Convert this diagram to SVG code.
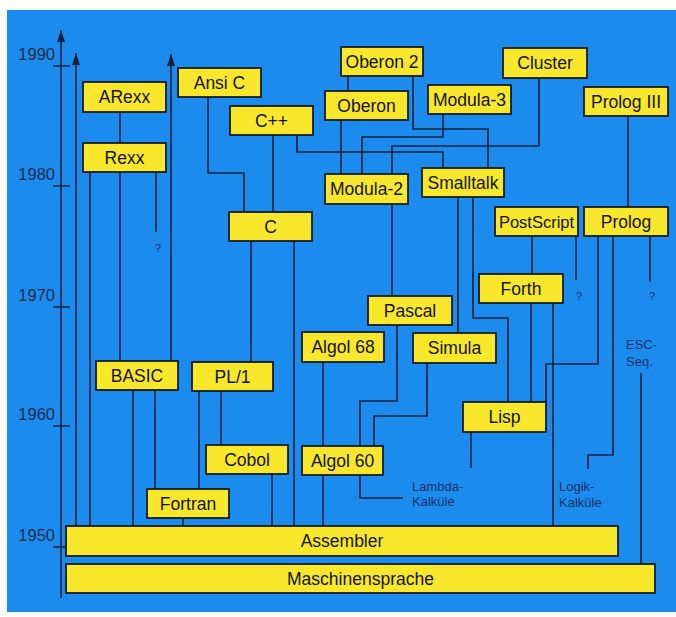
<svg xmlns="http://www.w3.org/2000/svg" width="676" height="617" viewBox="0 0 676 617">
<style>
.bg{fill:#1b8cee}
.box rect{fill:#f8e72a;stroke:#151a22;stroke-width:1.8}
.box text{font-family:"Liberation Sans",Arial,sans-serif;font-size:17.5px;fill:#141414;text-anchor:middle}
.ln{fill:none;stroke:#10203c;stroke-width:1.6}
.yr{font-family:"Liberation Sans",Arial,sans-serif;font-size:16.5px;fill:#1c2a48;text-anchor:end}
.sm{font-family:"Liberation Sans",Arial,sans-serif;font-size:13px;fill:#17306a}
.q{font-family:"Liberation Sans",Arial,sans-serif;font-size:11px;fill:#17306a;text-anchor:middle}
</style>
<defs>
<marker id="arr" markerUnits="userSpaceOnUse" markerWidth="12" markerHeight="8" refX="12" refY="4" orient="auto">
<path d="M0,0 L12,4 L0,8 z" fill="#10203c"/>
</marker>
</defs>
<rect x="0" y="0" width="676" height="617" fill="#ffffff"/>
<rect class="bg" x="7" y="10" width="669" height="602"/>

<g id="axis">
<path class="ln" d="M61,598 V30" marker-end="url(#arr)"/>
<path class="ln" d="M53,66 H70 M53,186 H70 M53,307 H70 M53,426 H70 M53,547 H70"/>
<text class="yr" x="55" y="59.5">1990</text>
<text class="yr" x="55" y="179.5">1980</text>
<text class="yr" x="55" y="300.5">1970</text>
<text class="yr" x="55" y="419.5">1960</text>
<text class="yr" x="55" y="540.5">1950</text>
</g>

<g id="connectors">
<path class="ln" d="M76,526 V53" marker-end="url(#arr)"/>
<path class="ln" d="M171,361 V54" marker-end="url(#arr)"/>
<path class="ln" d="M120,112 V143"/>
<path class="ln" d="M120,172 V361"/>
<path class="ln" d="M90,172 V526"/>
<path class="ln" d="M156,172 V232"/>
<path class="ln" d="M133,390 V526"/>
<path class="ln" d="M155,390 V489"/>
<path class="ln" d="M199,391 V489"/>
<path class="ln" d="M221,391 V445"/>
<path class="ln" d="M251,241 V362"/>
<path class="ln" d="M294,241 V526"/>
<path class="ln" d="M272,474 V526"/>
<path class="ln" d="M183,518 V526"/>
<path class="ln" d="M208,97 V173 H244 V212"/>
<path class="ln" d="M273,135 V212"/>
<path class="ln" d="M297,135 V152 H443 V168"/>
<path class="ln" d="M348,76 V91"/>
<path class="ln" d="M413,76 V129 H488 V168"/>
<path class="ln" d="M341,120 V174"/>
<path class="ln" d="M443,114 V137 H362 V174"/>
<path class="ln" d="M539,78 V146 H392 V174"/>
<path class="ln" d="M392,204 V296"/>
<path class="ln" d="M458,197 V333"/>
<path class="ln" d="M473,197 V318 H508 V402"/>
<path class="ln" d="M628,116 V207"/>
<path class="ln" d="M532,236 V274"/>
<path class="ln" d="M576,236 V280"/>
<path class="ln" d="M531,303 V402"/>
<path class="ln" d="M553,303 V526"/>
<path class="ln" d="M598,236 V364 H546 V402"/>
<path class="ln" d="M613,236 V455 H588 V469"/>
<path class="ln" d="M650,236 V282"/>
<path class="ln" d="M641,373 V564"/>
<path class="ln" d="M323,362 V446"/>
<path class="ln" d="M323,475 V526"/>
<path class="ln" d="M397,325 V401 H360 V446"/>
<path class="ln" d="M427,363 V416 H374 V446"/>
<path class="ln" d="M360,475 V498 H403"/>
<path class="ln" d="M471,432 V468"/>
</g>

<g id="labels">
<text class="q" x="158" y="252">?</text>
<text class="q" x="579" y="300">?</text>
<text class="q" x="652" y="300">?</text>
<text class="sm" x="412" y="491">Lambda-</text>
<text class="sm" x="412" y="506">Kalküle</text>
<text class="sm" x="559" y="491">Logik-</text>
<text class="sm" x="559" y="507">Kalküle</text>
<text class="sm" x="626" y="349">ESC-</text>
<text class="sm" x="626" y="366">Seq.</text>
</g>

<g id="n-arexx" class="box"><rect x="83" y="82" width="83" height="30"/><text x="124.5" y="103">ARexx</text></g>
<g id="n-rexx" class="box"><rect x="83" y="143" width="83" height="29"/><text x="124.5" y="163.5">Rexx</text></g>
<g id="n-ansic" class="box"><rect x="178" y="68" width="83" height="29"/><text x="219.5" y="88.5">Ansi C</text></g>
<g id="n-cpp" class="box"><rect x="230" y="106" width="83" height="29"/><text x="271.5" y="126.5">C++</text></g>
<g id="n-c" class="box"><rect x="229" y="212" width="83" height="29"/><text x="270.5" y="232.5">C</text></g>
<g id="n-oberon2" class="box"><rect x="341" y="47" width="82" height="29"/><text x="382" y="67.5">Oberon 2</text></g>
<g id="n-oberon" class="box"><rect x="325" y="91" width="83" height="29"/><text x="366.5" y="111.5">Oberon</text></g>
<g id="n-modula3" class="box"><rect x="428" y="85" width="83" height="29"/><text x="469.5" y="105.5">Modula-3</text></g>
<g id="n-cluster" class="box"><rect x="503" y="48" width="84" height="30"/><text x="545" y="69">Cluster</text></g>
<g id="n-prolog3" class="box"><rect x="584" y="87" width="84" height="29"/><text x="626" y="107.5">Prolog III</text></g>
<g id="n-modula2" class="box"><rect x="325" y="174" width="83" height="30"/><text x="366.5" y="195">Modula-2</text></g>
<g id="n-smalltalk" class="box"><rect x="422" y="168" width="82" height="29"/><text x="463" y="188.5">Smalltalk</text></g>
<g id="n-postscript" class="box"><rect x="495" y="207" width="83" height="29"/><text x="536.5" y="227.5" style="font-size:16.5px">PostScript</text></g>
<g id="n-prolog" class="box"><rect x="584" y="207" width="84" height="29"/><text x="626" y="227.5">Prolog</text></g>
<g id="n-forth" class="box"><rect x="479" y="274" width="84" height="29"/><text x="521" y="294.5">Forth</text></g>
<g id="n-pascal" class="box"><rect x="368" y="296" width="84" height="29"/><text x="410" y="316.5">Pascal</text></g>
<g id="n-algol68" class="box"><rect x="302" y="332" width="82" height="30"/><text x="343" y="353">Algol 68</text></g>
<g id="n-simula" class="box"><rect x="413" y="333" width="83" height="30"/><text x="454.5" y="354">Simula</text></g>
<g id="n-basic" class="box"><rect x="96" y="361" width="82" height="29"/><text x="137" y="381.5">BASIC</text></g>
<g id="n-pl1" class="box"><rect x="192" y="362" width="81" height="29"/><text x="232.5" y="382.5">PL/1</text></g>
<g id="n-lisp" class="box"><rect x="463" y="402" width="83" height="30"/><text x="504.5" y="423">Lisp</text></g>
<g id="n-cobol" class="box"><rect x="206" y="445" width="82" height="29"/><text x="247" y="465.5">Cobol</text></g>
<g id="n-algol60" class="box"><rect x="302" y="446" width="81" height="29"/><text x="342.5" y="466.5">Algol 60</text></g>
<g id="n-fortran" class="box"><rect x="147" y="489" width="82" height="29"/><text x="188" y="509.5">Fortran</text></g>
<g id="n-assembler" class="box"><rect x="66" y="526" width="552" height="30"/><text x="342" y="547">Assembler</text></g>
<g id="n-maschinensprache" class="box"><rect x="66" y="564" width="589" height="29"/><text x="360.5" y="584.5">Maschinensprache</text></g>
</svg>
